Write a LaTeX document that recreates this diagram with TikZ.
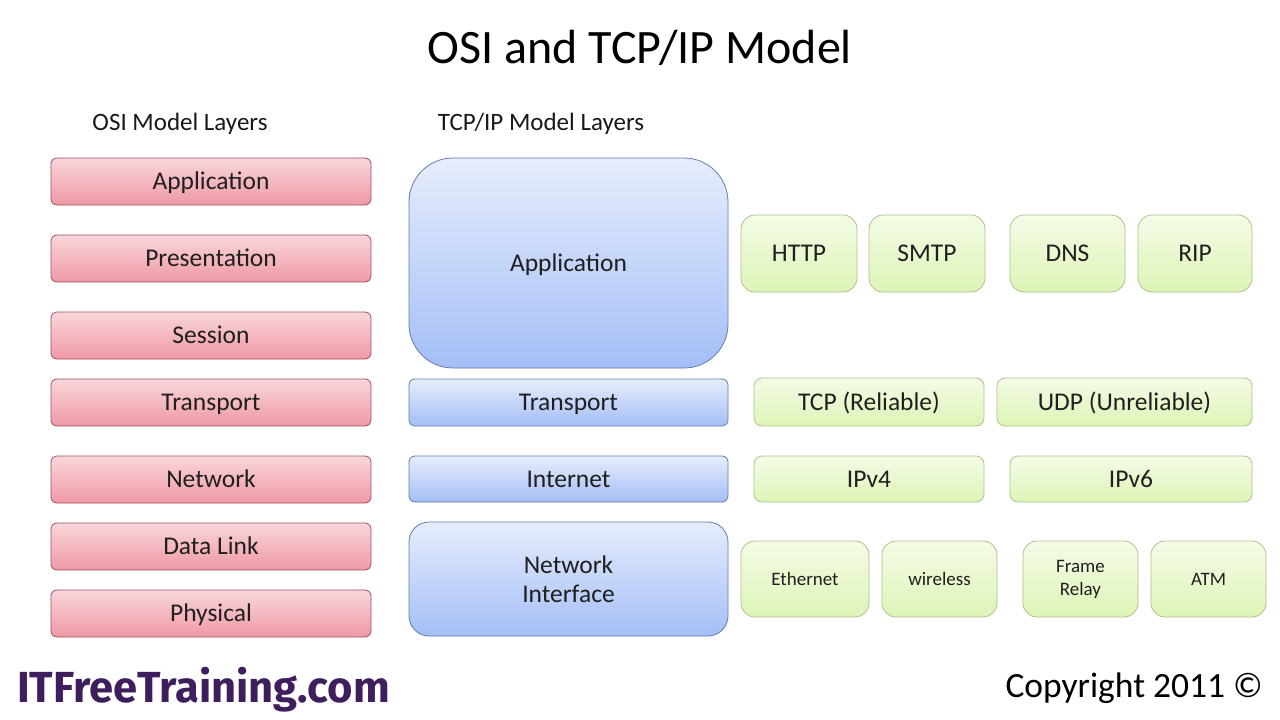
\documentclass[tikz,border=0pt]{standalone}
\usepackage{fontspec}
\setmainfont{Carlito}
\newfontfamily\logofont{Fira Sans Bold}
\definecolor{ositop}{RGB}{250,214,220}
\definecolor{osibot}{RGB}{238,152,165}
\definecolor{osiedge}{RGB}{160,80,92}
\definecolor{tcptop}{RGB}{230,237,252}
\definecolor{tcpbot}{RGB}{164,190,246}
\definecolor{tcpedge}{RGB}{98,124,176}
\definecolor{prottop}{RGB}{244,251,230}
\definecolor{protbot}{RGB}{222,244,182}
\definecolor{protedge}{RGB}{170,196,140}
\definecolor{logopurple}{RGB}{62,30,92}
\begin{document}
\begin{tikzpicture}[x=1pt,y=-1pt,
  layerbase/.style={draw, line width=0.8pt, align=center, inner sep=0pt,
    font=\fontsize{25.5}{30}\selectfont, text=black!88},
  onerow/.style={text height=16pt, text depth=0pt},
  smallrow/.style={text height=12pt, text depth=0pt},
  osibox/.style={layerbase, onerow, draw=osiedge, rounded corners=6pt,
    top color=ositop, bottom color=osibot,
    minimum width=320pt, minimum height=47pt},
  tcpbox/.style={layerbase, draw=tcpedge, top color=tcptop,
    bottom color=tcpbot, minimum width=319pt},
  protobox/.style={layerbase, draw=protedge, rounded corners=14pt,
    top color=prottop, bottom color=protbot},
  smallproto/.style={protobox, font=\fontsize{19}{23}\selectfont},
  heading/.style={font=\fontsize{25}{30}\selectfont, text=black!90}
]
\useasboundingbox (0,0) rectangle (1280,720);
\fill[white] (0,0) rectangle (1280,720);

% title and column headings
\node[font=\fontsize{48}{54}\selectfont] (title) at (640,48) {OSI and TCP/IP Model};
\node[heading] (osihead) at (180,124) {OSI Model Layers};
\node[heading] (tcphead) at (541,124) {TCP/IP Model Layers};

% OSI seven layers
\node[osibox] (osi7) at (211,181.5) {Application};
\node[osibox] (osi6) at (211,258.5) {Presentation};
\node[osibox] (osi5) at (211,335.5) {Session};
\node[osibox] (osi4) at (211,402.5) {Transport};
\node[osibox] (osi3) at (211,479.5) {Network};
\node[osibox] (osi2) at (211,546.5) {Data Link};
\node[osibox] (osi1) at (211,613.5) {Physical};

% TCP/IP four layers
\node[tcpbox, onerow, rounded corners=44pt, minimum height=210pt] (tcpApp) at (568.5,263) {Application};
\node[tcpbox, onerow, rounded corners=6pt, minimum height=47pt] (tcpTrans) at (568.5,402.5) {Transport};
\node[tcpbox, onerow, rounded corners=6pt, minimum height=46pt] (tcpNet) at (568.5,479) {Internet};
\node[tcpbox, rounded corners=20pt, minimum height=114pt] (tcpLink) at (568.5,579) {Network\\[-1pt]Interface};

% application protocols
\node[protobox, onerow, minimum width=116pt, minimum height=77pt] (http) at (799,253.5) {HTTP};
\node[protobox, onerow, minimum width=116pt, minimum height=77pt] (smtp) at (927,253.5) {SMTP};
\node[protobox, onerow, minimum width=115pt, minimum height=77pt] (dns) at (1067.5,253.5) {DNS};
\node[protobox, onerow, minimum width=114pt, minimum height=77pt] (rip) at (1195,253.5) {RIP};

% transport protocols
\node[protobox, onerow, rounded corners=8pt, minimum width=230pt, minimum height=48pt] (tcp) at (869,402) {TCP (Reliable)};
\node[protobox, onerow, rounded corners=8pt, minimum width=255pt, minimum height=48pt] (udp) at (1124.5,402) {UDP (Unreliable)};

% internet protocols
\node[protobox, onerow, rounded corners=8pt, minimum width=230pt, minimum height=46pt] (ipv4) at (869,479) {IPv4};
\node[protobox, onerow, rounded corners=8pt, minimum width=242pt, minimum height=46pt] (ipv6) at (1131,479) {IPv6};

% link technologies
\node[smallproto, smallrow, minimum width=128pt, minimum height=76pt] (eth) at (805,579) {Ethernet};
\node[smallproto, smallrow, minimum width=115pt, minimum height=76pt] (wifi) at (939.5,579) {wireless};
\node[smallproto, minimum width=115pt, minimum height=76pt] (frame) at (1080.5,579) {Frame\\[0pt]Relay};
\node[smallproto, smallrow, minimum width=115pt, minimum height=76pt] (atm) at (1208.5,579) {ATM};

% footer
\node[anchor=west, font=\logofont\fontsize{43.5}{48}\selectfont, text=logopurple, inner sep=0pt] (logo) at (17,690) {ITFreeTraining.com};
\node[anchor=east, font=\fontsize{35.5}{40}\selectfont, inner sep=0pt] (copy) at (1263,688) {Copyright 2011 ©};
\end{tikzpicture}
\end{document}
